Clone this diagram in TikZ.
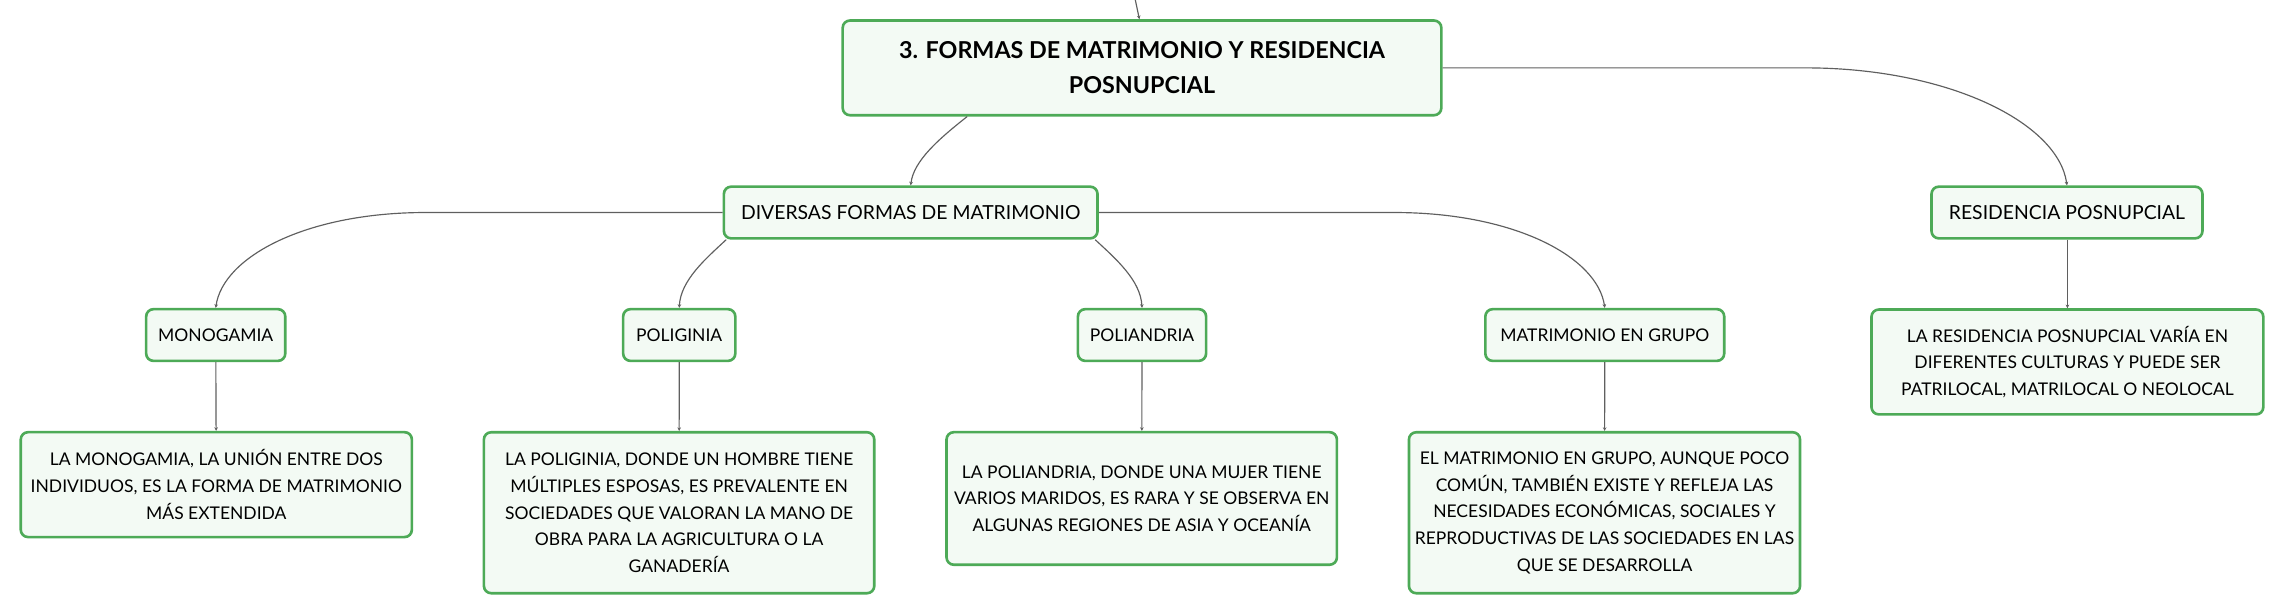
\documentclass[tikz,border=0pt]{standalone}
\usepackage{fontspec}
\setmainfont{Lato}
\usetikzlibrary{arrows.meta}
\definecolor{boxgreen}{RGB}{77,170,87}
\definecolor{boxfill}{RGB}{243,250,244}
\definecolor{linkgray}{RGB}{95,95,95}
\tikzset{
  topic/.style={draw=boxgreen, fill=boxfill, line width=1.8pt, rounded corners=5pt,
    align=center, inner sep=0pt, minimum height=35.5pt, font=\fontsize{12}{18.3}\selectfont},
  subtopic/.style={topic, font=\fontsize{13.3}{18.3}\selectfont},
  maintopic/.style={topic, font=\bfseries\fontsize{16}{24.2}\selectfont},
  link/.style={draw=linkgray, line width=0.8pt, -{Stealth[length=2.5pt,width=2.5pt]}}
}
\begin{document}
\begin{tikzpicture}[x=1pt,y=1pt,yscale=-1,xscale=1]
		\useasboundingbox (0,0) rectangle (1568,422.2);
		\coordinate (up) at (779.2,-1);
		% main topic and its two branches
		\node [maintopic, minimum width=411pt, minimum height=65pt] (title) at (784,46.6) {3. FORMAS DE MATRIMONIO Y RESIDENCIA\\POSNUPCIAL};
		\node [subtopic, minimum width=256.5pt] (formas) at (625.2,145.9) {DIVERSAS FORMAS DE MATRIMONIO};
		\node [subtopic, minimum width=186pt] (resid) at (1419,145.9) {RESIDENCIA POSNUPCIAL};
		% kinds of marriage
		\node [topic, minimum width=95.5pt] (mono) at (148.1,230) {MONOGAMIA};
		\node [topic, minimum width=77pt] (polig) at (466.3,230) {POLIGINIA};
		\node [topic, minimum width=88pt] (poliand) at (784,230) {POLIANDRIA};
		\node [topic, minimum width=164pt] (grupo) at (1101.7,230) {MATRIMONIO EN GRUPO};
		% descriptions
		\node [topic, minimum width=268.5pt, minimum height=72pt] (monotxt) at (148.5,332.7) {LA MONOGAMIA, LA UNIÓN ENTRE DOS\\INDIVIDUOS, ES LA FORMA DE MATRIMONIO\\MÁS EXTENDIDA};
		\node [topic, minimum width=268pt, minimum height=110.5pt] (poligtxt) at (466.2,352) {LA POLIGINIA, DONDE UN HOMBRE TIENE\\MÚLTIPLES ESPOSAS, ES PREVALENTE EN\\SOCIEDADES QUE VALORAN LA MANO DE\\OBRA PARA LA AGRICULTURA O LA\\GANADERÍA};
		\node [topic, minimum width=268pt, minimum height=91pt] (poliandtxt) at (783.8,342.2) {LA POLIANDRIA, DONDE UNA MUJER TIENE\\VARIOS MARIDOS, ES RARA Y SE OBSERVA EN\\ALGUNAS REGIONES DE ASIA Y OCEANÍA};
		\node [topic, minimum width=268.5pt, minimum height=110.5pt] (grupotxt) at (1101.5,352) {EL MATRIMONIO EN GRUPO, AUNQUE POCO\\COMÚN, TAMBIÉN EXISTE Y REFLEJA LAS\\NECESIDADES ECONÓMICAS, SOCIALES Y\\REPRODUCTIVAS DE LAS SOCIEDADES EN LAS\\QUE SE DESARROLLA};
		\node [topic, minimum width=269pt, minimum height=72pt] (residtxt) at (1419.3,248.5) {LA RESIDENCIA POSNUPCIAL VARÍA EN\\DIFERENTES CULTURAS Y PUEDE SER\\PATRILOCAL, MATRILOCAL O NEOLOCAL};
		% connectors
		\draw [link] (up) -- ([xshift=-1.8pt]title.north);
		\draw [link] ([xshift=-120pt]title.south) .. controls +(-19,15) and +(2,-17) .. (formas.north);
		\draw [link] (title.east) -- ++(249,0) .. controls +(98,0) and +(-6,-43) .. (resid.north);
		\draw [link] (formas.west) -- ++(-204,0) .. controls +(-82,0) and +(5,-35) .. (mono.north);
		\draw [link] ([xshift=2.5pt]formas.south west) .. controls +(-14,13) and +(1,-19) .. (polig.north);
		\draw [link] ([xshift=-2.5pt]formas.south east) .. controls +(14,13) and +(-1,-19) .. (poliand.north);
		\draw [link] (formas.east) -- ++(203,0) .. controls +(82,0) and +(-5,-35) .. (grupo.north);
		\draw [link] (mono) -- (monotxt);
		\draw [link] (polig) -- (poligtxt);
		\draw [link] (poliand) -- (poliandtxt);
		\draw [link] (grupo) -- (grupotxt);
		\draw [link] (resid.south -| residtxt.north) -- (residtxt.north);
	\end{tikzpicture}
\end{document}
